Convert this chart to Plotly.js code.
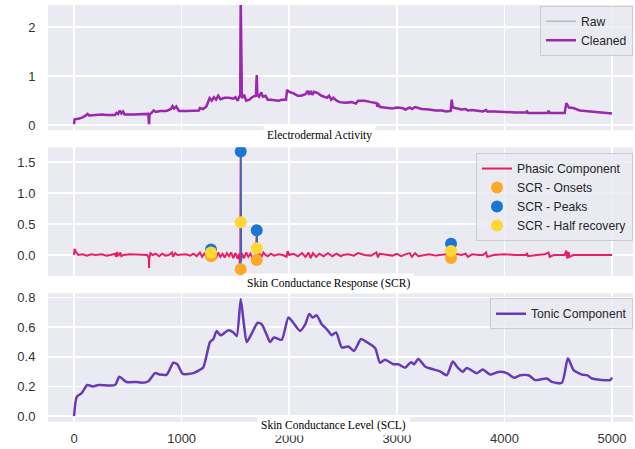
<!DOCTYPE html>
<html>
<head>
<meta charset="utf-8">
<script src="https://cdn.plot.ly/plotly-3.0.1.min.js"></script>
<style>html,body{margin:0;padding:0;background:#fff;}#chart{width:635px;height:449px;}</style>
</head>
<body>
<div id="chart"></div>
<script>
// ---- Data ----
const cleanedX = [0,5,40,80,110,125,140,200,260,300,380,395,410,425,440,455,470,550,620,690,697,702,720,740,760,800,860,900,915,930,950,975,1050,1120,1160,1170,1200,1230,1260,1280,1300,1320,1340,1360,1400,1440,1480,1500,1520,1535,1545,1549,1553,1560,1580,1600,1630,1660,1690,1698,1704,1720,1740,1755,1780,1800,1830,1870,1900,1930,1970,1980,2000,2040,2080,2110,2150,2170,2185,2200,2215,2230,2260,2300,2330,2350,2370,2390,2410,2440,2470,2520,2580,2620,2640,2700,2760,2810,2820,2830,2845,2900,2960,3000,3050,3080,3120,3140,3170,3200,3230,3300,3360,3420,3460,3500,3510,3520,3560,3600,3640,3660,3700,3760,3800,3830,3840,3900,3980,4040,4100,4200,4210,4220,4300,4400,4410,4420,4500,4560,4575,4585,4600,4640,4700,4800,4900,5000];
const cleanedY = [0.02,0.12,0.13,0.16,0.2,0.23,0.2,0.21,0.22,0.21,0.21,0.25,0.23,0.3,0.24,0.28,0.22,0.22,0.22,0.23,0.02,0.22,0.25,0.3,0.27,0.29,0.29,0.33,0.39,0.34,0.38,0.29,0.29,0.3,0.3,0.35,0.33,0.38,0.55,0.5,0.57,0.52,0.6,0.53,0.56,0.56,0.54,0.57,0.5,0.58,0.62,2.6,0.6,0.55,0.62,0.5,0.52,0.58,0.6,1.02,0.62,0.58,0.67,0.58,0.6,0.52,0.52,0.5,0.5,0.52,0.52,0.72,0.68,0.65,0.6,0.6,0.63,0.7,0.62,0.7,0.62,0.68,0.66,0.6,0.58,0.56,0.6,0.52,0.56,0.5,0.47,0.46,0.47,0.44,0.5,0.5,0.47,0.45,0.38,0.42,0.37,0.36,0.34,0.36,0.35,0.32,0.36,0.33,0.37,0.35,0.33,0.32,0.3,0.3,0.28,0.29,0.52,0.36,0.34,0.32,0.33,0.3,0.31,0.3,0.28,0.31,0.28,0.28,0.27,0.27,0.26,0.26,0.28,0.25,0.25,0.25,0.29,0.25,0.25,0.25,0.45,0.4,0.36,0.35,0.3,0.28,0.26,0.24];

const phasicX = [0,5,20,40,80,120,160,200,260,300,340,380,390,400,410,430,440,460,520,600,680,695,697,700,710,730,760,790,820,850,880,910,920,940,960,1000,1040,1080,1110,1140,1170,1190,1210,1240,1260,1273,1285,1300,1320,1340,1360,1380,1400,1420,1440,1460,1480,1500,1520,1535,1545,1549,1553,1560,1580,1600,1620,1640,1660,1690,1698,1705,1720,1740,1760,1780,1800,1830,1860,1900,1940,1975,1985,2000,2040,2080,2120,2150,2180,2200,2220,2250,2280,2320,2360,2400,2440,2480,2500,2550,2600,2640,2700,2760,2810,2825,2840,2900,2960,3000,3040,3080,3120,3140,3170,3200,3250,3300,3360,3400,3460,3500,3504,3515,3540,3600,3640,3660,3700,3760,3800,3830,3840,3900,4000,4100,4200,4210,4220,4300,4380,4410,4420,4460,4560,4575,4585,4595,4605,4640,4700,4800,4900,5000];
const phasicY = [0.0,0.1,0.04,0.0,0.01,-0.01,0.01,0.0,0.01,-0.01,0.0,0.02,-0.03,0.05,-0.02,0.04,-0.02,0.0,0.01,0.0,0.0,-0.05,-0.21,-0.05,0.03,0.0,0.02,-0.02,0.02,-0.01,0.0,0.04,-0.03,0.03,0.0,0.0,0.01,-0.01,0.02,-0.02,0.04,-0.03,0.02,-0.04,0.05,0.09,-0.03,0.03,-0.05,0.04,-0.03,0.02,-0.04,0.03,-0.02,0.04,-0.05,0.03,-0.06,0.02,-0.23,1.67,-0.1,0.03,-0.05,0.04,-0.03,0.02,-0.05,-0.08,0.4,-0.02,0.03,-0.04,0.04,0.0,-0.02,0.02,-0.01,0.01,0.0,-0.03,0.06,0.0,0.02,-0.02,0.03,-0.03,0.04,-0.05,0.03,-0.03,0.02,-0.02,0.03,-0.02,0.02,-0.02,0.0,0.01,-0.01,0.03,0.0,-0.01,0.04,-0.04,0.02,0.0,-0.01,0.02,-0.02,0.01,0.03,-0.03,0.03,-0.02,0.0,0.01,-0.01,0.0,0.01,-0.03,0.18,-0.02,0.02,0.0,0.02,-0.03,0.01,0.0,0.0,0.04,-0.03,0.0,0.01,0.0,0.0,0.03,-0.02,0.0,0.01,0.04,-0.03,0.0,0.0,0.07,-0.06,0.05,-0.03,0.0,0.0,0.0,0.0,0.0];

const scrX = [1273,1549,1698,3504];
const onsetsY = [-0.02,-0.23,-0.08,-0.05];
const peaksY = [0.09,1.67,0.40,0.18];
const halfRecY = [0.04,0.53,0.11,0.065];

const tonicX = [0,25,71,123,173,226,381,421,489,582,629,691,753,800,861,923,960,1010,1109,1165,1202,1264,1295,1326,1363,1435,1481,1512,1549,1574,1605,1651,1707,1744,1790,1821,1859,1930,1992,2038,2100,2146,2187,2218,2255,2302,2350,2395,2436,2488,2550,2602,2668,2720,2798,2844,2890,2968,3014,3076,3132,3160,3200,3262,3340,3402,3464,3520,3563,3613,3650,3743,3799,3867,3945,4022,4091,4147,4224,4286,4394,4441,4534,4590,4643,4720,4767,4813,4984,5000];
const tonicY = [0.0,0.13,0.155,0.21,0.2,0.21,0.21,0.265,0.23,0.23,0.225,0.235,0.29,0.28,0.28,0.36,0.35,0.285,0.29,0.31,0.33,0.5,0.52,0.575,0.545,0.58,0.565,0.54,0.79,0.65,0.5,0.557,0.63,0.62,0.55,0.5,0.53,0.515,0.665,0.63,0.575,0.615,0.69,0.665,0.68,0.62,0.586,0.546,0.565,0.464,0.47,0.44,0.52,0.5,0.46,0.36,0.38,0.35,0.35,0.327,0.364,0.35,0.386,0.335,0.315,0.302,0.276,0.369,0.33,0.30,0.325,0.29,0.315,0.28,0.298,0.29,0.258,0.276,0.276,0.243,0.254,0.231,0.225,0.39,0.31,0.28,0.276,0.254,0.243,0.26];

const xTicks = [0,1000,2000,3000,4000,5000];
const y1Ticks = [0,1,2];
const y2Ticks = [0,0.5,1.0,1.5];
const y3Ticks = [0,0.2,0.4,0.6,0.8];
const panelTitles = ["Electrodermal Activity","Skin Conductance Response (SCR)","Skin Conductance Level (SCL)"];

// ---- Build segment coordinates for SCR amplitudes ----
const ampX = [], ampY = [];
scrX.forEach((x,i)=>{ ampX.push(x,x,null); ampY.push(onsetsY[i],peaksY[i],null); });

const traces = [
  {x: cleanedX, y: cleanedY, xaxis:'x', yaxis:'y', mode:'lines', name:'Raw', line:{color:'#B0BEC5', width:1.5}, legend:'legend'},
  {x: cleanedX, y: cleanedY, xaxis:'x', yaxis:'y', mode:'lines', name:'Cleaned', line:{color:'#9C27B0', width:2.5}, legend:'legend'},
  {x: phasicX, y: phasicY, xaxis:'x2', yaxis:'y2', mode:'lines', name:'Phasic Component', line:{color:'#E91E63', width:2}, legend:'legend2'},
  {x: ampX, y: ampY, xaxis:'x2', yaxis:'y2', mode:'lines', showlegend:false, line:{color:'#1976D2', width:1.5}, hoverinfo:'skip'},
  {x: scrX, y: onsetsY, xaxis:'x2', yaxis:'y2', mode:'markers', name:'SCR - Onsets', marker:{color:'#FFA726', size:12}, legend:'legend2'},
  {x: scrX, y: peaksY, xaxis:'x2', yaxis:'y2', mode:'markers', name:'SCR - Peaks', marker:{color:'#1976D2', size:12}, legend:'legend2'},
  {x: scrX, y: halfRecY, xaxis:'x2', yaxis:'y2', mode:'markers', name:'SCR - Half recovery', marker:{color:'#FDD835', size:12}, legend:'legend2'},
  {x: tonicX, y: tonicY, xaxis:'x3', yaxis:'y3', mode:'lines', name:'Tonic Component', line:{color:'#673AB7', width:2.5, shape:'spline', smoothing:0.6}, legend:'legend3'}
];

const tickFont = {family:'Liberation Sans, Arial, sans-serif', size:13, color:'#333333'};
const xBase = {range:[-242,5195], tickvals:xTicks, showgrid:true, gridcolor:'#ffffff', gridwidth:1.5, zeroline:false, showline:false, ticks:'', tickfont:tickFont};
const yBase = {showgrid:true, gridcolor:'#ffffff', gridwidth:1.5, zeroline:false, showline:false, ticks:'outside', ticklen:9, tickcolor:'rgba(0,0,0,0)', tickfont:tickFont};
const legBase = {bgcolor:'rgba(234,234,242,0.8)', bordercolor:'#CCCCCC', borderwidth:1, font:{family:'Liberation Sans, Arial, sans-serif', size:12.2, color:'#262626'}, xanchor:'right', yanchor:'top', x:1, xref:'paper', yref:'paper'};

const annFont = {family:'Liberation Serif, Times New Roman, serif', size:11.5, color:'#000000'};
const layout = {
  width:635, height:449,
  margin:{l:48, r:2, t:5, b:27},
  paper_bgcolor:'#ffffff', plot_bgcolor:'#EAEAF2',
  showlegend:true,
  xaxis: Object.assign({}, xBase, {domain:[0,1], anchor:'y', showticklabels:false}),
  xaxis2: Object.assign({}, xBase, {domain:[0,1], anchor:'y2', showticklabels:false}),
  xaxis3: Object.assign({}, xBase, {domain:[0,1], anchor:'y3', showticklabels:true, ticks:'outside', ticklen:4, tickcolor:'rgba(0,0,0,0)'}),
  yaxis: Object.assign({}, yBase, {domain:[0.700,1], range:[-0.1,2.45], tickvals:y1Ticks, ticktext:['0','1','2']}),
  yaxis2: Object.assign({}, yBase, {domain:[0.350,0.659], range:[-0.34,1.74], tickvals:y2Ticks, tickformat:'.1f'}),
  yaxis3: Object.assign({}, yBase, {domain:[0,0.309], range:[-0.04,0.83], tickvals:y3Ticks, tickformat:'.1f'}),
  legend: Object.assign({}, legBase, {y:0.998}),
  legend2: Object.assign({}, legBase, {y:0.645}),
  legend3: Object.assign({}, legBase, {y:0.297}),
  annotations: [
    {text:panelTitles[0], xref:'paper', yref:'paper', x:(319-48)/585, y:(422-135.5)/417, xanchor:'center', yanchor:'middle', showarrow:false, font:annFont, bgcolor:'#ffffff', borderpad:3},
    {text:panelTitles[1], xref:'paper', yref:'paper', x:(328-48)/585, y:(422-283)/417, xanchor:'center', yanchor:'middle', showarrow:false, font:annFont, bgcolor:'#ffffff', borderpad:3},
    {text:panelTitles[2], xref:'paper', yref:'paper', x:(333-48)/585, y:(422-425.7)/417, xanchor:'center', yanchor:'middle', showarrow:false, font:annFont, bgcolor:'#ffffff', borderpad:3}
  ]
};

Plotly.newPlot('chart', traces, layout, {displayModeBar:false, staticPlot:true});
</script>
</body>
</html>
